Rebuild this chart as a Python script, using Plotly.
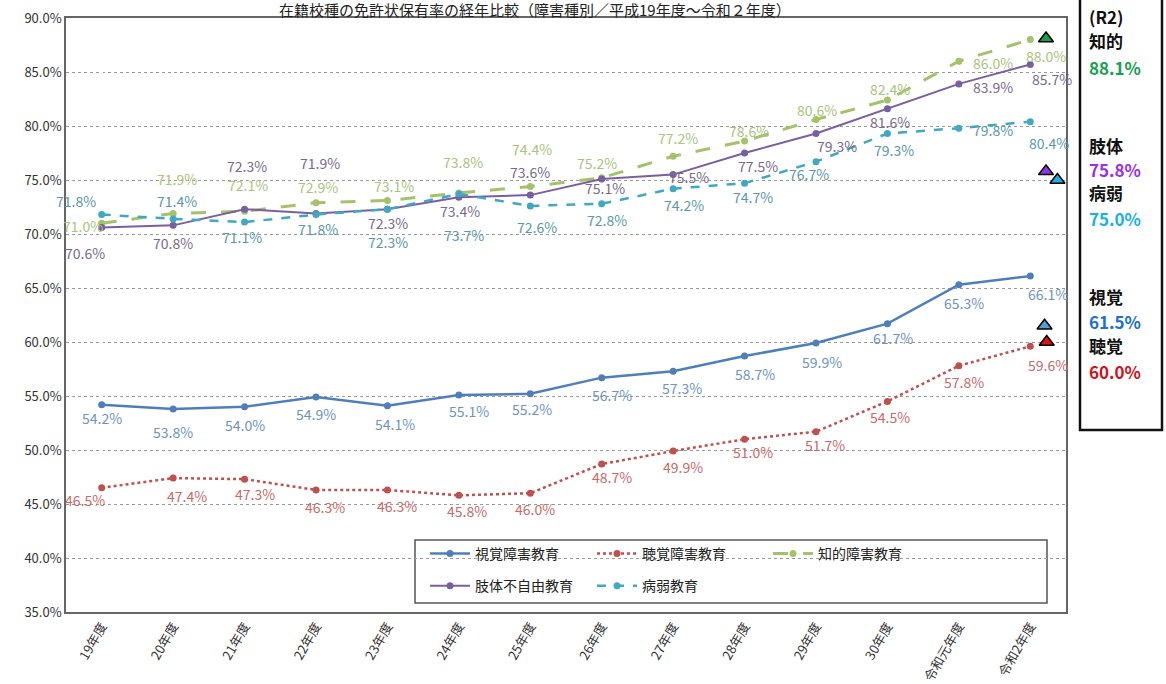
import plotly.graph_objects as go

categories = ["19年度", "20年度", "21年度", "22年度", "23年度", "24年度", "25年度",
              "26年度", "27年度", "28年度", "29年度", "30年度", "令和元年度", "令和2年度"]
series_names = ["視覚障害教育", "聴覚障害教育", "知的障害教育", "肢体不自由教育", "病弱教育"]
shikaku = [54.2, 53.8, 54.0, 54.9, 54.1, 55.1, 55.2, 56.7, 57.3, 58.7, 59.9, 61.7, 65.3, 66.1]
choukaku = [46.5, 47.4, 47.3, 46.3, 46.3, 45.8, 46.0, 48.7, 49.9, 51.0, 51.7, 54.5, 57.8, 59.6]
chiteki = [71.0, 71.9, 72.1, 72.9, 73.1, 73.8, 74.4, 75.2, 77.2, 78.6, 80.6, 82.4, 86.0, 88.0]
shitai = [70.6, 70.8, 72.3, 71.9, 72.3, 73.4, 73.6, 75.1, 75.5, 77.5, 79.3, 81.6, 83.9, 85.7]
byoujaku = [71.8, 71.4, 71.1, 71.8, 72.3, 73.7, 72.6, 72.8, 74.2, 74.7, 76.7, 79.3, 79.8, 80.4]

# R2 reference values (triangles and side panel)
r2_names = ["知的", "肢体", "病弱", "視覚", "聴覚"]
r2_values = [88.1, 75.8, 75.0, 61.5, 60.0]
r2_xpos = [13.22, 13.22, 13.38, 13.2, 13.23]

title_text = "在籍校種の免許状保有率の経年比較（障害種別／平成19年度～令和２年度）"
y_ticks = [35, 40, 45, 50, 55, 60, 65, 70, 75, 80, 85, 90]

FONT = "Noto Sans CJK JP"
xs = list(range(len(categories)))

styles = [
    dict(color="#4f7fbb", dash="solid", width=2.5, lab="#6e93c2"),
    dict(color="#c0504d", dash="dot", width=2.5, lab="#c86a68"),
    dict(color="#a3c36a", dash="longdash", width=3, lab="#a9c47c"),
    dict(color="#7a5fa0", dash="solid", width=2, lab="#786a8e"),
    dict(color="#3fa8c4", dash="dash", width=2.5, lab="#5a98a9"),
]

# label offsets in pixels (dx right, dy down)
offsets = [
    [(0, 13), (0, 23), (0, 18), (0, 17), (8, 18), (10, 16), (2, 15), (10, 17), (9, 17), (10, 18), (6, 19), (6, 14), (5, 18), (18, 18)],
    [(-17, 12), (14, 18), (10, 15), (9, 17), (10, 16), (8, 16), (5, 16), (10, 13), (10, 16), (8, 13), (9, 13), (3, 16), (5, 16), (18, 19)],
    [(-19, 3), (4, -34), (3, -26), (2, -16), (7, -15), (4, -31), (2, -37), (-5, -15), (5, -18), (4, -10), (1, -10), (3, -11), (34, 2), (16, 16)],
    [(-17, 25), (0, 18), (2, -43), (4, -50), (1, 14), (1, 14), (0, -23), (3, 9), (16, 2), (13, 13), (21, 12), (3, 13), (34, 3), (22, 15)],
    [(-26, -14), (4, -18), (-3, 15), (2, 14), (1, 33), (5, 41), (7, 21), (5, 16), (11, 16), (8, 14), (-7, 12), (7, 16), (34, 2), (19, 21)],
]

all_series = [shikaku, choukaku, chiteki, shitai, byoujaku]
legend_ids = ["legend", "legend2", "legend3", "legend", "legend2"]

W, H = 1166, 684
L, R, T, B = 66, 100, 18, 72
pw, ph = W - L - R, H - T - B


def px_to_paper(xp, yp):
    return (xp - L) / pw, 1 - (yp - T) / ph


fig = go.Figure()
for i, (name, vals, st) in enumerate(zip(series_names, all_series, styles)):
    fig.add_trace(go.Scatter(
        x=xs, y=vals, name=name, mode="lines+markers",
        line=dict(color=st["color"], dash=st["dash"], width=st["width"]),
        marker=dict(color=st["color"], size=7),
        legend=legend_ids[i], legendgroup=name, showlegend=True,
    ))

annotations = []
for vals, st, offs in zip(all_series, styles, offsets):
    for i, v in enumerate(vals):
        dx, dy = offs[i]
        annotations.append(dict(
            x=xs[i], y=v, xref="x", yref="y", text=f"{v:.1f}%", showarrow=False,
            xshift=dx, yshift=-dy, font=dict(family=FONT, size=14, color=st["lab"]),
        ))

tri_colors = ["#17a050", "#9030e8", "#1eaee6", "#5b9bd5", "#e01010"]
for name, v, xp, c in zip(r2_names, r2_values, r2_xpos, tri_colors):
    fig.add_trace(go.Scatter(
        x=[xp], y=[v], mode="markers", showlegend=False, name=name,
        marker=dict(symbol="triangle-up", size=13, color=c, line=dict(color="#000", width=1.5)),
    ))

# Title
tx, ty = px_to_paper(535, 9)
annotations.append(dict(
    x=tx, y=ty, xref="paper", yref="paper", text=title_text, showarrow=False,
    yanchor="middle", font=dict(family=FONT, size=15, color="#222"),
))

# Right panel
panel_text_color = ["#17a050", "#9a2ff0", "#1ab0e8", "#1a6fcf", "#d0101a"]
panel_rows = [("(R2)", "#111", 17), ("知的", "#111", 41), (f"{r2_values[0]:.1f}%", panel_text_color[0], 67),
              ("肢体", "#111", 145), (f"{r2_values[1]:.1f}%", panel_text_color[1], 169),
              ("病弱", "#111", 193), (f"{r2_values[2]:.1f}%", panel_text_color[2], 218),
              ("視覚", "#111", 296), (f"{r2_values[3]:.1f}%", panel_text_color[3], 321),
              ("聴覚", "#111", 345), (f"{r2_values[4]:.1f}%", panel_text_color[4], 371)]
for txt, col, py in panel_rows:
    ax_, ay_ = px_to_paper(1087, py)
    annotations.append(dict(
        x=ax_, y=ay_, xref="paper", yref="paper", xanchor="left", yanchor="middle",
        text=f"<b>{txt}</b>", showarrow=False, font=dict(family=FONT, size=17, color=col),
    ))

shapes = []
x0, y0 = px_to_paper(1080, -5)
x1, y1 = px_to_paper(1162, 430)
shapes.append(dict(type="rect", xref="paper", yref="paper", x0=x0, y0=y0, x1=x1, y1=y1,
                   line=dict(color="#111", width=2.5), fillcolor="rgba(0,0,0,0)", layer="above"))
lx0, ly0 = px_to_paper(415, 540)
lx1, ly1 = px_to_paper(1047, 603)
shapes.append(dict(type="rect", xref="paper", yref="paper", x0=lx0, y0=ly0, x1=lx1, y1=ly1,
                   line=dict(color="#555", width=1.5), fillcolor="white", layer="below"))

legend_common = dict(
    bgcolor="rgba(0,0,0,0)", borderwidth=0, orientation="v", xanchor="left", yanchor="top",
    font=dict(family=FONT, size=14, color="#222"), tracegroupgap=11, itemwidth=40,
)
lgy = px_to_paper(0, 538)[1]
fig.update_layout(
    width=W, height=H,
    margin=dict(l=L, r=R, t=T, b=B, autoexpand=False),
    paper_bgcolor="white", plot_bgcolor="white",
    font=dict(family=FONT, color="#333"),
    xaxis=dict(range=[-0.5, 13.5], tickmode="array", tickvals=xs, ticktext=categories,
               tickangle=-60, showgrid=False, showline=True, mirror=True, linecolor="#666",
               linewidth=1.5, ticks="", automargin=False,
               tickfont=dict(family=FONT, size=13, color="#333")),
    yaxis=dict(range=[35, 90], tickmode="array", tickvals=y_ticks,
               ticktext=[f"{t:.1f}%" for t in y_ticks], showgrid=True, gridcolor="#9a9a9a",
               griddash="dot", gridwidth=1.2, showline=True, mirror=True, linecolor="#666",
               linewidth=1.5, ticks="", zeroline=False, automargin=False,
               tickfont=dict(family=FONT, size=13, color="#333")),
    legend=dict(x=px_to_paper(425, 0)[0], y=lgy, **legend_common),
    legend2=dict(x=px_to_paper(592, 0)[0], y=lgy, **legend_common),
    legend3=dict(x=px_to_paper(768, 0)[0], y=lgy, **legend_common),
    annotations=annotations,
    shapes=shapes,
)

fig.write_html("out.html")
